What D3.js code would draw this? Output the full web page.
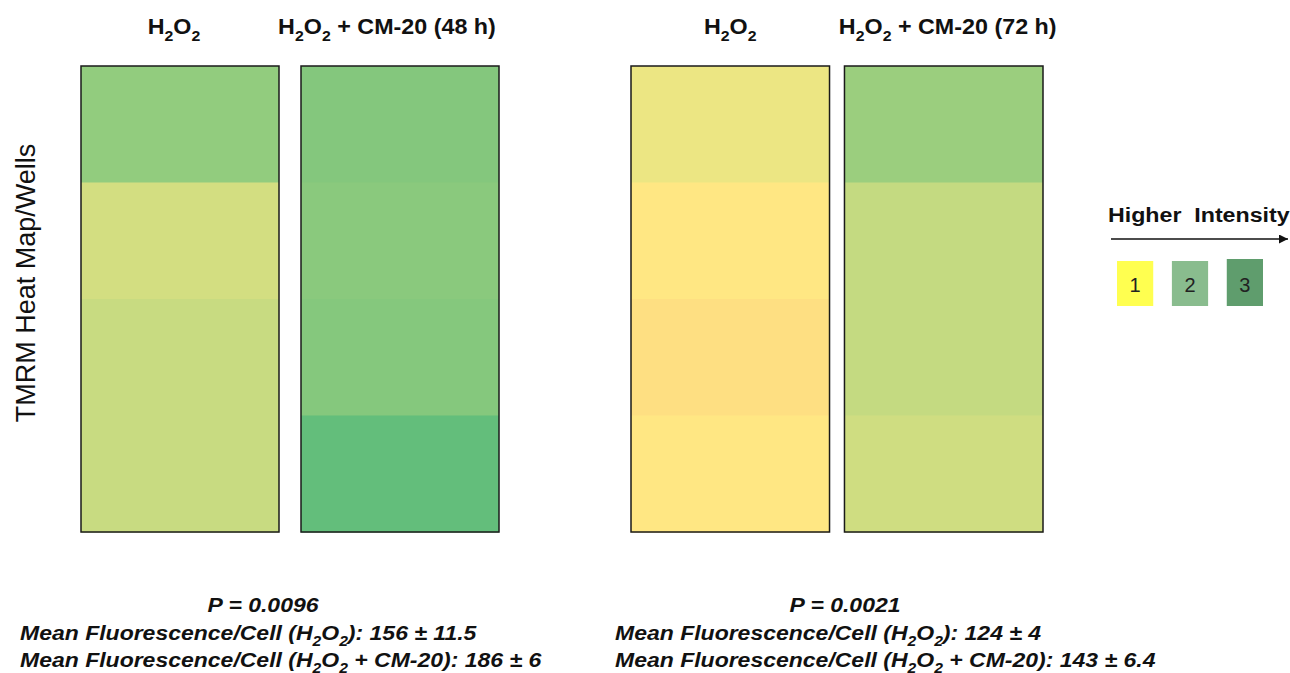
<!DOCTYPE html>
<html>
<head>
<meta charset="utf-8">
<script src="https://cdn.jsdelivr.net/npm/d3@7.9.0/dist/d3.min.js"></script>
<style>
  html, body { margin: 0; padding: 0; background: #fff; }
  svg { display: block; font-family: Arial, "Liberation Sans", sans-serif; }
</style>
</head>
<body>
<svg id="chart" width="1290" height="673"></svg>
<script>
// ========== Data ==========

// wells (rows of each heat map column)
const wells = ['Well 1', 'Well 2', 'Well 3', 'Well 4'];

// column headers ("_2" marks a subscript 2)
const headers48 = ['H_2O_2', 'H_2O_2 + CM-20 (48 h)'];
const headers72 = ['H_2O_2', 'H_2O_2 + CM-20 (72 h)'];

// relative TMRM intensity per well (-1 low .. 0 mid .. 1 high)
const intensity48H2O2 = [0.70, 0.28, 0.35, 0.35];
const intensity48CM20 = [0.79, 0.75, 0.78, 1.00];
const intensity72H2O2 = [0.12, -0.03, -0.09, -0.03];
const intensity72CM20 = [0.64, 0.38, 0.38, 0.31];

// statistics under each panel
const pValues = ['P = 0.0096', 'P = 0.0021'];
const meanH2O2 = ['156 ± 11.5', '124 ± 4'];
const meanCM20 = ['186 ± 6', '143 ± 6.4'];

// legend
const legendLevels = ['1', '2', '3'];
const legendColors = ['#ffff50', '#89bc8e', '#5f9d6d'];

// ========== Layout ==========

const svg = d3.select('#chart');
const stretch = 1.095;   // the source figure's text is a little wide

// Excel-style 3 colour scale (red - yellow - green)
const color = d3.scaleLinear()
  .domain([-1, 0, 1])
  .range(['#F8696B', '#FFEB84', '#63BE7B']);

const y = d3.scaleBand().domain(wells).range([66, 532]);

const panels = [
  { headers: headers48, series: [intensity48H2O2, intensity48CM20], range: [81, 499], pad: 0.1,
    nudge: [-6, -13], pX: 263, textX: 20 },
  { headers: headers72, series: [intensity72H2O2, intensity72CM20], range: [631, 1043], pad: 0.07,
    nudge: [0, 4], pX: 845, textX: 615 }
];

// write a string with "_2" subscripts into a text element
function richText(sel, str, size) {
  const parts = str.split(/(_\d)/).filter((p) => p !== '');
  let down = false;
  parts.forEach((p) => {
    const isSub = p.startsWith('_');
    const t = sel.append('tspan').text(isSub ? p.slice(1) : p);
    if (isSub && !down) { t.attr('dy', size * 0.3).attr('font-size', size * 0.68); down = true; }
    else if (isSub) { t.attr('font-size', size * 0.68); }
    else if (down) { t.attr('dy', -size * 0.3); down = false; }
  });
}

// a stretched text at (x, y)
function wideText(parent, x, yPos, k) {
  return parent.append('text')
    .attr('transform', `translate(${x},${yPos}) scale(${k},1)`)
    .attr('fill', '#111');
}

panels.forEach((panel, pi) => {
  const x = d3.scaleBand()
    .domain(panel.headers)
    .range(panel.range)
    .paddingInner(panel.pad);

  const g = svg.append('g');

  panel.series.forEach((values, ci) => {
    const col = panel.headers[ci];
    const colG = g.append('g');

    colG.selectAll('rect.cell')
      .data(values)
      .join('rect')
      .attr('class', 'cell')
      .attr('x', x(col))
      .attr('y', (d, i) => y(wells[i]))
      .attr('width', x.bandwidth())
      .attr('height', y.bandwidth() + 0.5)
      .attr('fill', (d) => color(d));

    // column frame
    colG.append('rect')
      .attr('x', x(col))
      .attr('y', y.range()[0])
      .attr('width', x.bandwidth())
      .attr('height', y.range()[1] - y.range()[0])
      .attr('fill', 'none')
      .attr('stroke', '#1a1a1a')
      .attr('stroke-width', 1.5);

    // header
    const h = wideText(g, x(col) + x.bandwidth() / 2 + panel.nudge[ci], 34, 1.06)
      .attr('text-anchor', 'middle')
      .attr('font-size', 22)
      .attr('font-weight', 'bold');
    richText(h, col, 22);
  });

  // statistics block
  wideText(g, panel.pX, 612, stretch)
    .attr('text-anchor', 'middle')
    .attr('font-size', 21)
    .attr('font-weight', 'bold')
    .attr('font-style', 'italic')
    .text(pValues[pi]);

  const l2 = wideText(g, panel.textX, 640, stretch)
    .attr('font-size', 21)
    .attr('font-weight', 'bold')
    .attr('font-style', 'italic');
  richText(l2, `Mean Fluorescence/Cell (H_2O_2): ${meanH2O2[pi]}`, 21);

  const l3 = wideText(g, panel.textX, 667, stretch)
    .attr('font-size', 21)
    .attr('font-weight', 'bold')
    .attr('font-style', 'italic');
  richText(l3, `Mean Fluorescence/Cell (H_2O_2 + CM-20): ${meanCM20[pi]}`, 21);
});

// y axis label
svg.append('text')
  .attr('transform', 'translate(35,283) rotate(-90)')
  .attr('text-anchor', 'middle')
  .attr('font-size', 27)
  .attr('fill', '#111')
  .text('TMRM Heat Map/Wells');

// ========== Legend ==========

svg.append('defs').append('marker')
  .attr('id', 'arrow')
  .attr('viewBox', '0 0 10 10')
  .attr('refX', 10).attr('refY', 5)
  .attr('markerWidth', 9).attr('markerHeight', 9)
  .attr('markerUnits', 'userSpaceOnUse')
  .attr('orient', 'auto')
  .append('path')
  .attr('d', 'M0,0 L10,5 L0,10 Z')
  .attr('fill', '#111');

wideText(svg, 1108, 222, 1.16)
  .attr('font-size', 20)
  .attr('font-weight', 'bold')
  .attr('xml:space', 'preserve')
  .text('Higher  Intensity');

svg.append('line')
  .attr('x1', 1111).attr('x2', 1288)
  .attr('y1', 239).attr('y2', 239)
  .attr('stroke', '#111')
  .attr('stroke-width', 1.5)
  .attr('marker-end', 'url(#arrow)');

const lx = d3.scaleBand().domain(legendLevels).range([1117, 1263]).paddingInner(0.34);

const lg = svg.append('g').selectAll('g')
  .data(legendLevels)
  .join('g');

lg.append('rect')
  .attr('x', (d) => lx(d))
  .attr('y', (d, i) => (i === 2 ? 259 : 261))
  .attr('width', lx.bandwidth())
  .attr('height', (d, i) => (i === 2 ? 47 : 45))
  .attr('fill', (d, i) => legendColors[i]);

lg.append('text')
  .attr('x', (d) => lx(d) + lx.bandwidth() / 2)
  .attr('y', 292)
  .attr('text-anchor', 'middle')
  .attr('font-size', 20)
  .attr('fill', '#222')
  .text((d) => d);
</script>
</body>
</html>
